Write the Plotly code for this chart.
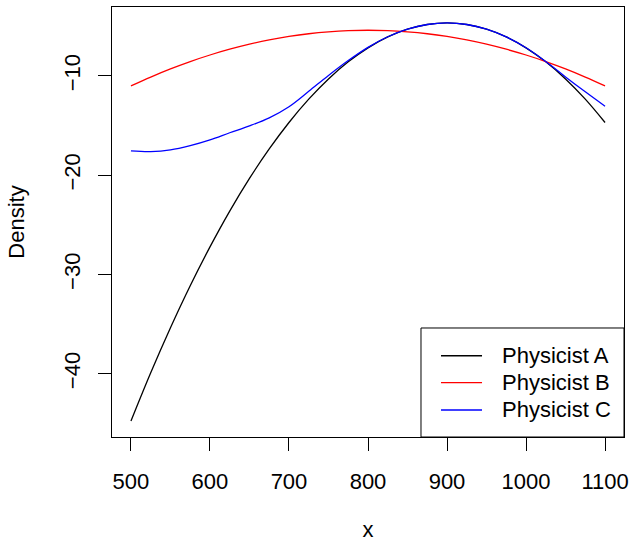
import plotly.graph_objects as go

x_vals = [500, 525, 550, 575, 600, 625, 650, 675, 700, 725, 750, 775, 800,
          825, 850, 875, 900, 925, 950, 975, 1000, 1025, 1050, 1075, 1100]

physicist_a = [-44.76, -39.90, -35.36, -31.13, -27.22, -23.61, -20.32, -17.35,
               -14.69, -12.34, -10.30, -8.58, -7.17, -6.07, -5.29, -4.82, -4.66,
               -4.82, -5.29, -6.07, -7.17, -8.58, -10.30, -12.34, -14.69]

physicist_b = [-11.00, -10.11, -9.29, -8.55, -7.89, -7.31, -6.80, -6.37, -6.02,
               -5.75, -5.56, -5.44, -5.40, -5.44, -5.56, -5.75, -6.02, -6.37,
               -6.80, -7.31, -7.89, -8.55, -9.29, -10.11, -11.00]

physicist_c = [-17.55, -17.62, -17.45, -17.02, -16.44, -15.72, -15.03, -14.22,
               -13.10, -11.55, -9.95, -8.45, -7.12, -6.05, -5.28, -4.82, -4.66,
               -4.82, -5.29, -6.07, -7.16, -8.55, -10.10, -11.60, -13.05]

series_names = ["Physicist A", "Physicist B", "Physicist C"]
series_colors = ["black", "red", "blue"]

x_ticks = [500, 600, 700, 800, 900, 1000, 1100]
y_ticks = [-40, -30, -20, -10]

FONT = "Liberation Sans, Arial, Helvetica, sans-serif"
FS = 22
LW = 1.3

fig = go.Figure()
for name, ys, col in zip(series_names, [physicist_a, physicist_b, physicist_c], series_colors):
    fig.add_trace(go.Scatter(x=x_vals, y=ys, mode="lines", name=name, showlegend=False,
                             line=dict(color=col, width=LW, shape="spline", smoothing=1.0)))

all_y = physicist_a + physicist_b + physicist_c
ymin, ymax = min(all_y), max(all_y)
ypad = (ymax - ymin) * 0.04
xpad = (max(x_vals) - min(x_vals)) * 0.04

# legend (R-style box in the bottom-right corner of the plot area)
box_x0, box_y1 = 0.6035, 0.2535
line_x0, line_x1 = 0.6426, 0.7227
text_x = 0.7577
row_y = [0.189, 0.1263, 0.0628]
shapes = [dict(type="rect", xref="paper", yref="paper", x0=box_x0, x1=1, y0=0, y1=box_y1,
               line=dict(color="black", width=1), fillcolor="white", layer="above")]
annotations = []
for name, col, ry in zip(series_names, series_colors, row_y):
    shapes.append(dict(type="line", xref="paper", yref="paper", x0=line_x0, x1=line_x1,
                       y0=ry, y1=ry, line=dict(color=col, width=LW), layer="above"))
    annotations.append(dict(xref="paper", yref="paper", x=text_x, y=ry, text=name,
                            showarrow=False, xanchor="left", yanchor="middle",
                            font=dict(family=FONT, size=FS, color="black")))

fig.update_layout(
    template="none",
    width=631, height=542,
    margin=dict(l=112, r=7, t=7, b=105, pad=0),
    paper_bgcolor="white", plot_bgcolor="white",
    font=dict(family=FONT, size=FS, color="black"),
    showlegend=False,
    shapes=shapes,
    annotations=annotations,
    xaxis=dict(range=[min(x_vals) - xpad, max(x_vals) + xpad], automargin=False,
               tickvals=x_ticks, ticktext=[str(v) for v in x_ticks],
               showgrid=False, zeroline=False,
               showline=True, mirror=True, linecolor="black", linewidth=1,
               ticks="outside", ticklen=13, tickcolor="black", tickwidth=1,
               ticklabelstandoff=12,
               title=dict(text="x", standoff=37, font=dict(size=FS))),
    yaxis=dict(range=[ymin - ypad, ymax + ypad], automargin=False,
               tickvals=y_ticks, ticktext=["\u221240", "\u221230", "\u221220", "\u221210"],
               tickangle=-90,
               showgrid=False, zeroline=False,
               showline=True, mirror=True, linecolor="black", linewidth=1,
               ticks="outside", ticklen=13, tickcolor="black", tickwidth=1,
               ticklabelstandoff=9,
               title=dict(text="Density", standoff=29, font=dict(size=FS))),
)

fig.write_html("out.html")
